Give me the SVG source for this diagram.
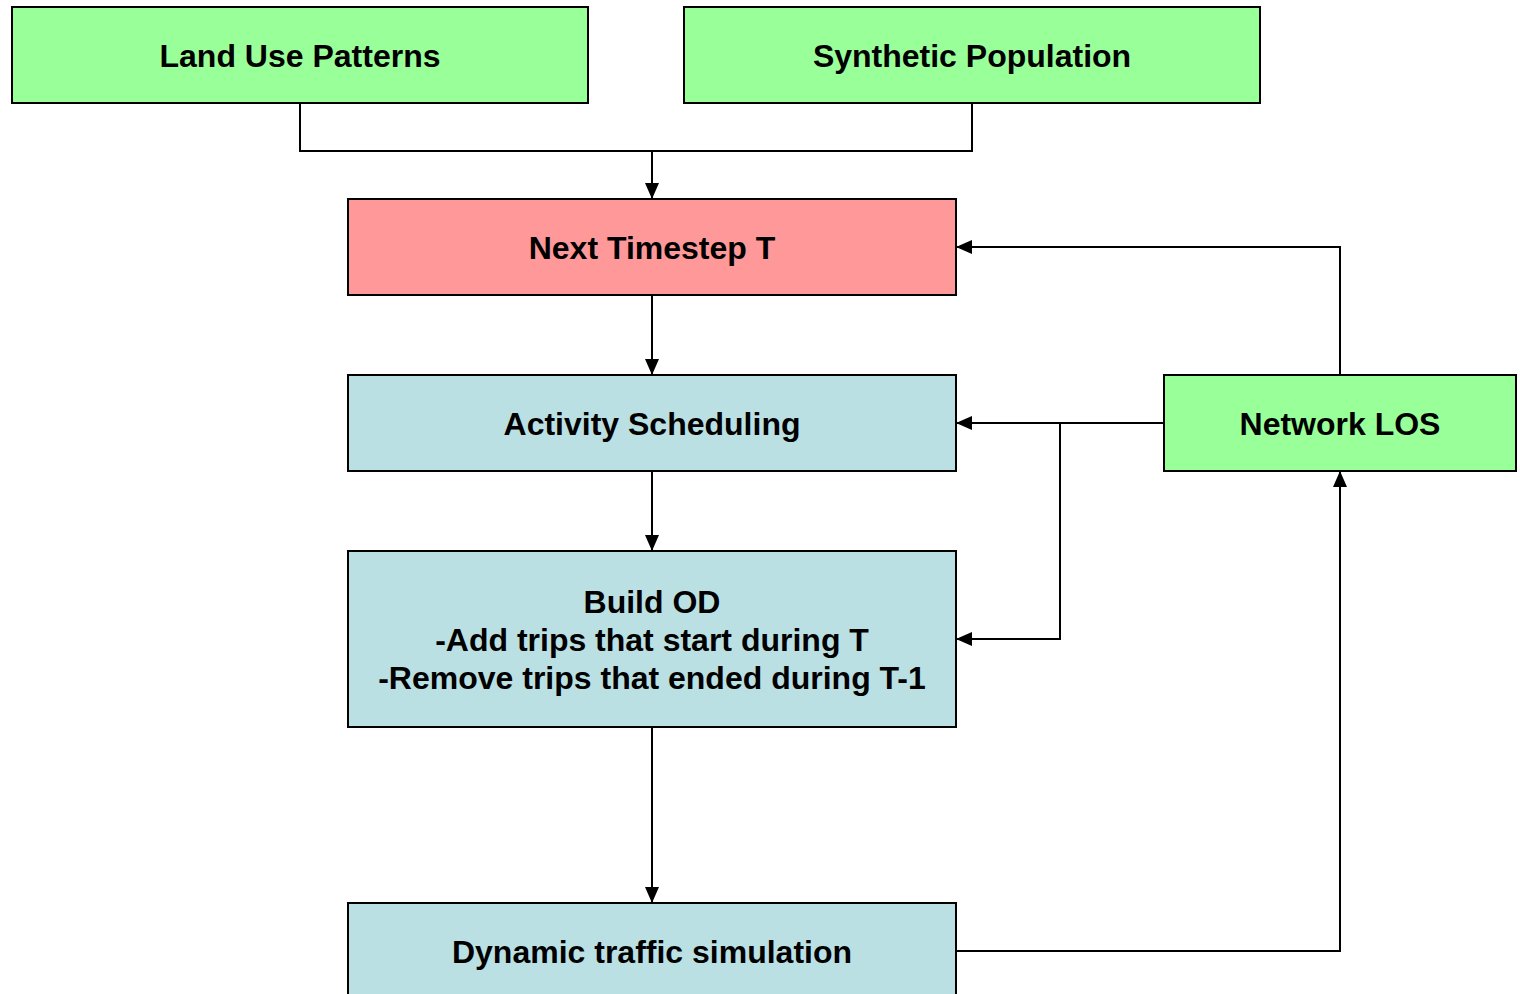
<svg xmlns="http://www.w3.org/2000/svg" width="1520" height="994" viewBox="0 0 1520 994">
<defs>
<marker id="arr" viewBox="0 0 16 14" refX="16" refY="7" markerWidth="16" markerHeight="14" markerUnits="userSpaceOnUse" orient="auto">
<path d="M0,0 L16,7 L0,14 Z" fill="#000"/>
</marker>
<style>
.box{stroke:#000;stroke-width:2}
.g{fill:#99FF99}
.r{fill:#FF9999}
.b{fill:#BAE0E3}
.t{font-family:"Liberation Sans",Arial,sans-serif;font-weight:bold;font-size:32px;text-anchor:middle;fill:#000}
.c{fill:none;stroke:#000;stroke-width:2}
</style>
</defs>
<rect width="1520" height="994" fill="#fff"/>
<g id="connectors">
<polyline class="c" points="300,103 300,151 972,151 972,103"/>
<line class="c" x1="652" y1="151" x2="652" y2="199" marker-end="url(#arr)"/>
<line class="c" x1="652" y1="295" x2="652" y2="375" marker-end="url(#arr)"/>
<line class="c" x1="652" y1="471" x2="652" y2="551" marker-end="url(#arr)"/>
<line class="c" x1="652" y1="727" x2="652" y2="903" marker-end="url(#arr)"/>
<polyline class="c" points="956,951 1340,951 1340,471" marker-end="url(#arr)"/>
<polyline class="c" points="1340,375 1340,247 956,247" marker-end="url(#arr)"/>
<line class="c" x1="1164" y1="423" x2="956" y2="423" marker-end="url(#arr)"/>
<polyline class="c" points="1060,423 1060,639 956,639" marker-end="url(#arr)"/>
</g>
<g id="land-use">
<rect class="box g" x="12" y="7" width="576" height="96"/>
<text class="t" x="300" y="67">Land Use Patterns</text>
</g>
<g id="synthetic-population">
<rect class="box g" x="684" y="7" width="576" height="96"/>
<text class="t" x="972" y="67">Synthetic Population</text>
</g>
<g id="next-timestep">
<rect class="box r" x="348" y="199" width="608" height="96"/>
<text class="t" x="652" y="259">Next Timestep T</text>
</g>
<g id="activity-scheduling">
<rect class="box b" x="348" y="375" width="608" height="96"/>
<text class="t" x="652" y="435">Activity Scheduling</text>
</g>
<g id="build-od">
<rect class="box b" x="348" y="551" width="608" height="176"/>
<text class="t" x="652" y="613">Build OD</text>
<text class="t" x="652" y="651">-Add trips that start during T</text>
<text class="t" x="652" y="689">-Remove trips that ended during T-1</text>
</g>
<g id="network-los">
<rect class="box g" x="1164" y="375" width="352" height="96"/>
<text class="t" x="1340" y="435">Network LOS</text>
</g>
<g id="dynamic-traffic">
<rect class="box b" x="348" y="903" width="608" height="100"/>
<text class="t" x="652" y="963">Dynamic traffic simulation</text>
</g>
</svg>
